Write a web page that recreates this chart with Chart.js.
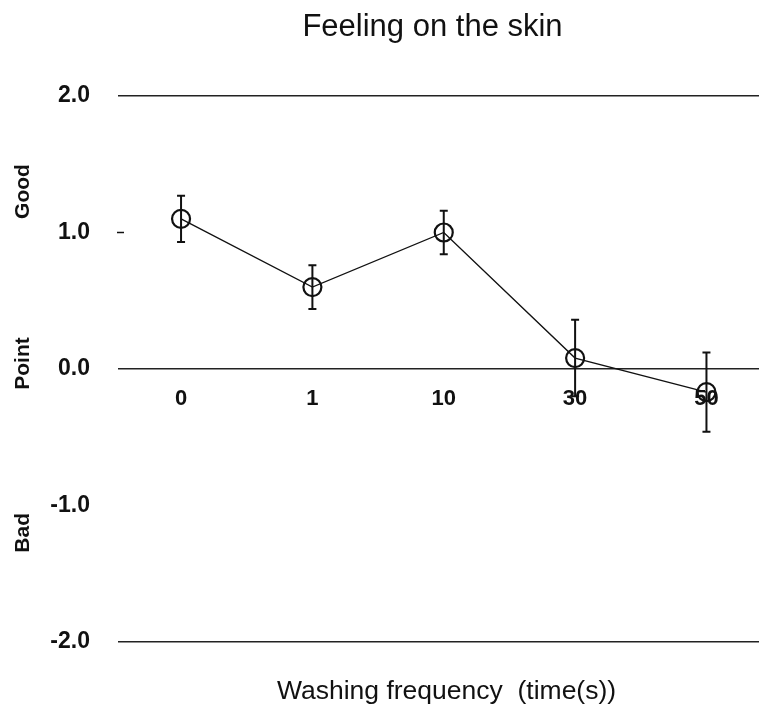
<!DOCTYPE html>
<html>
<head>
<meta charset="utf-8">
<script src="https://cdn.jsdelivr.net/npm/chart.js@4"></script>
<style>
  html, body { margin: 0; padding: 0; background: #fff; }
  #wrap { width: 759px; height: 711px; }
</style>
</head>
<body>
<div id="wrap"><canvas id="skin" width="759" height="711"></canvas></div>
<script>
// washing frequency categories and mean scores
const categories = ['0', '1', '10', '30', '50'];
const means = [1.10, 0.60, 1.00, 0.08, -0.17];
const errors = [0.17, 0.16, 0.16, 0.28, 0.29];
const yTicks = [2, 1, 0, -1, -2];

const FONT = "'Liberation Sans', Arial, sans-serif";
const INK = '#111';

// error bars drawn through the scales
const errorBars = {
    id: 'errorBars',
    afterDatasetsDraw(chart) {
        const {ctx, scales: {x, y}} = chart;
        ctx.save();
        ctx.strokeStyle = INK;
        ctx.lineWidth = 2;
        means.forEach((m, i) => {
            const px = x.getPixelForValue(i);
            const top = y.getPixelForValue(m + errors[i]);
            const bot = y.getPixelForValue(m - errors[i]);
            ctx.beginPath();
            ctx.moveTo(px, top); ctx.lineTo(px, bot);
            ctx.moveTo(px - 4, top); ctx.lineTo(px + 4, top);
            ctx.moveTo(px - 4, bot); ctx.lineTo(px + 4, bot);
            ctx.stroke();
        });
        ctx.restore();
    }
};

// titles, side words Good / Point / Bad and the small dash at 1.0
const extras = {
    id: 'extras',
    afterDraw(chart) {
        const {ctx, scales: {y}, chartArea} = chart;
        const mid = (chartArea.left + chartArea.right) / 2;
        ctx.save();
        ctx.fillStyle = INK;
        ctx.textAlign = 'center';
        ctx.textBaseline = 'alphabetic';
        ctx.font = '31px ' + FONT;
        ctx.fillText('Feeling on the skin', mid - 6, 36);
        ctx.font = '26.5px ' + FONT;
        ctx.fillText('Washing frequency  (time(s))', mid + 8, 699);

        ctx.font = 'bold 21px ' + FONT;
        ctx.textBaseline = 'middle';
        [['Good', 1.3], ['Point', 0.04], ['Bad', -1.2]].forEach(([t, v]) => {
            ctx.save();
            ctx.translate(23, y.getPixelForValue(v));
            ctx.rotate(-Math.PI / 2);
            ctx.fillText(t, 0, 0);
            ctx.restore();
        });
        ctx.strokeStyle = INK;
        ctx.lineWidth = 1.5;
        const py = y.getPixelForValue(1);
        ctx.beginPath();
        ctx.moveTo(chartArea.left - 1, py);
        ctx.lineTo(chartArea.left + 6, py);
        ctx.stroke();
        ctx.restore();
    }
};

new Chart('skin', {
    type: 'line',
    data: {
        datasets: [{
            data: means.map((m, i) => ({x: i, y: m})),
            borderColor: INK,
            borderWidth: 1.3,
            pointStyle: 'circle',
            pointRadius: 9,
            pointBorderWidth: 2.2,
            pointBorderColor: INK,
            pointBackgroundColor: 'rgba(0,0,0,0)',
            tension: 0
        }]
    },
    options: {
        responsive: false,
        animation: false,
        events: [],
        layout: { autoPadding: false, padding: { left: 0, right: 0, top: 96, bottom: 69 } },
        plugins: {
            legend: { display: false },
            tooltip: { enabled: false },
            title: { display: false }
        },
        scales: {
            x: {
                type: 'linear',
                position: { y: 0 },
                min: -0.48,
                max: 4.4,
                afterBuildTicks: (s) => { s.ticks = categories.map((c, i) => ({ value: i })); },
                afterFit: (s) => { s.paddingLeft = 0; s.paddingRight = 0; },
                grid: { display: false, drawTicks: false },
                border: { display: false },
                ticks: {
                    padding: 17,
                    color: INK,
                    font: { family: FONT, size: 22, weight: 'bold' },
                    callback: (v) => categories[v]
                }
            },
            y: {
                min: -2,
                max: 2,
                afterBuildTicks: (s) => { s.ticks = yTicks.map(v => ({ value: v })); },
                afterFit: (s) => { s.width = 118; s.paddingTop = 0; s.paddingBottom = 0; },
                grid: {
                    drawTicks: false,
                    lineWidth: 1.5,
                    color: (c) => (c.tick && c.tick.value % 2 === 0) ? '#222' : 'rgba(0,0,0,0)'
                },
                border: { display: false },
                ticks: {
                    padding: 28,
                    color: INK,
                    font: { family: FONT, size: 23, weight: 'bold' },
                    callback: (v) => v.toFixed(1)
                }
            }
        }
    },
    plugins: [errorBars, extras]
});
</script>
</body>
</html>
